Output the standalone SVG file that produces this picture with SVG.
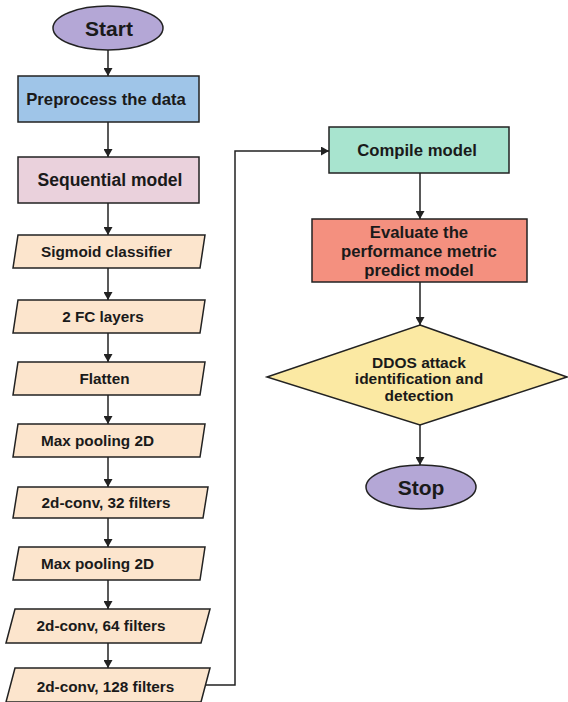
<svg xmlns="http://www.w3.org/2000/svg" width="568" height="702" viewBox="0 0 568 702">
<style>
.s{stroke:#222;stroke-width:1.5}
.t{font-family:"Liberation Sans",Arial,sans-serif;font-weight:bold;fill:#1a1a1a;text-anchor:middle}
.term{fill:#b4a7d6}
.para{fill:#fce5cd}
.c{fill:none;stroke:#222;stroke-width:1.5}
</style>
<defs>
<marker id="ah" markerWidth="8" markerHeight="9" refX="8" refY="4.5" orient="auto" markerUnits="userSpaceOnUse" viewBox="0 0 8 9">
<path d="M0,0 L8,4.5 L0,9 Z" fill="#222"/>
</marker>
</defs>
<rect width="568" height="702" fill="#fff"/>
<g id="connectors">
<line class="c" x1="108" y1="50" x2="108" y2="76" marker-end="url(#ah)"/>
<line class="c" x1="108" y1="122" x2="108" y2="157" marker-end="url(#ah)"/>
<line class="c" x1="108" y1="203" x2="108" y2="235" marker-end="url(#ah)"/>
<line class="c" x1="108" y1="268" x2="108" y2="300" marker-end="url(#ah)"/>
<line class="c" x1="108" y1="333" x2="108" y2="362" marker-end="url(#ah)"/>
<line class="c" x1="108" y1="395" x2="108" y2="424" marker-end="url(#ah)"/>
<line class="c" x1="108" y1="457" x2="108" y2="487" marker-end="url(#ah)"/>
<line class="c" x1="108" y1="518" x2="108" y2="547" marker-end="url(#ah)"/>
<line class="c" x1="108" y1="580" x2="108" y2="609" marker-end="url(#ah)"/>
<line class="c" x1="108" y1="643" x2="108" y2="668" marker-end="url(#ah)"/>
<polyline class="c" points="205,685 235,685 235,151 329,151" marker-end="url(#ah)"/>
<line class="c" x1="420" y1="173" x2="420" y2="219" marker-end="url(#ah)"/>
<line class="c" x1="420" y1="282" x2="420" y2="325" marker-end="url(#ah)"/>
<line class="c" x1="420" y1="425" x2="420" y2="465" marker-end="url(#ah)"/>
</g>
<g id="start">
<ellipse class="s term" cx="108" cy="28" rx="55" ry="22"/>
<text class="t" x="109" y="35.5" font-size="21">Start</text>
</g>
<g id="preprocess">
<rect class="s" x="18" y="76" width="181" height="46" fill="#9fc5e8"/>
<text class="t" x="106" y="105" font-size="16.7">Preprocess the data</text>
</g>
<g id="sequential">
<rect class="s" x="18" y="157" width="181" height="46" fill="#ead1dc"/>
<text class="t" x="110" y="186" font-size="17.5">Sequential model</text>
</g>
<g id="sigmoid">
<polygon class="s para" points="18,235 205,235 200,268 13,268"/>
<text class="t" x="106.5" y="257" font-size="15.3">Sigmoid classifier</text>
</g>
<g id="fc">
<polygon class="s para" points="18,300 205,300 200,333 13,333"/>
<text class="t" x="103" y="322" font-size="15.3">2 FC layers</text>
</g>
<g id="flatten">
<polygon class="s para" points="18,362 205,362 200,395 13,395"/>
<text class="t" x="104.5" y="384" font-size="15.3">Flatten</text>
</g>
<g id="maxpool1">
<polygon class="s para" points="18,424 205,424 200,457 13,457"/>
<text class="t" x="97.5" y="446" font-size="15.3">Max pooling 2D</text>
</g>
<g id="conv32">
<polygon class="s para" points="18,487 208,487 203,518 13,518"/>
<text class="t" x="106" y="508" font-size="15.3">2d-conv, 32 filters</text>
</g>
<g id="maxpool2">
<polygon class="s para" points="19,547 205,547 200,580 13,580"/>
<text class="t" x="97.5" y="569" font-size="15.3">Max pooling 2D</text>
</g>
<g id="conv64">
<polygon class="s para" points="15,609 210,609 201,643 6,643"/>
<text class="t" x="101" y="631" font-size="15.3">2d-conv, 64 filters</text>
</g>
<g id="conv128">
<polygon class="s para" points="15,668 210,668 201,702 6,702"/>
<text class="t" x="105.5" y="692" font-size="15.3">2d-conv, 128 filters</text>
</g>
<g id="compile">
<rect class="s" x="329" y="127" width="180" height="46" fill="#a8e4cf"/>
<text class="t" x="417" y="156" font-size="16.7">Compile model</text>
</g>
<g id="evaluate">
<rect class="s" x="312" y="219" width="215" height="63" fill="#f4907f"/>
<text class="t" x="419" y="238" font-size="16.7">Evaluate the</text>
<text class="t" x="419" y="257" font-size="16.7">performance metric</text>
<text class="t" x="419" y="276" font-size="16.7">predict model</text>
</g>
<g id="ddos">
<polygon class="s" points="420,325 567,377 420,425 267,377" fill="#fbe9a3"/>
<text class="t" x="419" y="367.5" font-size="15.5">DDOS attack</text>
<text class="t" x="419" y="384" font-size="15.5">identification and</text>
<text class="t" x="419" y="400.5" font-size="15.5">detection</text>
</g>
<g id="stop">
<ellipse class="s term" cx="421" cy="487" rx="55" ry="22"/>
<text class="t" x="421" y="494.5" font-size="21">Stop</text>
</g>
</svg>
